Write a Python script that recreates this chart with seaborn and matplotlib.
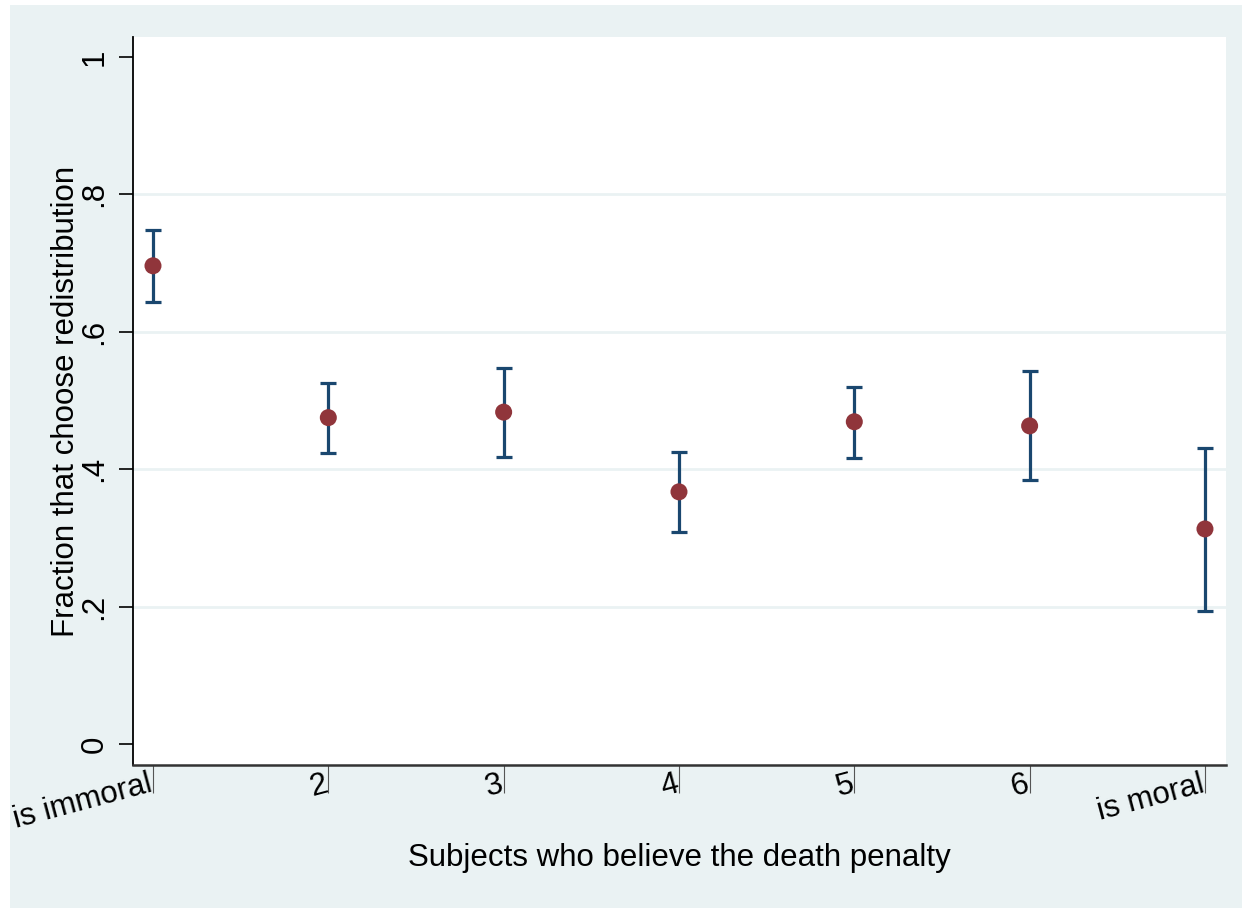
import numpy as np
import pandas as pd
import seaborn as sns
import matplotlib.pyplot as plt
import matplotlib.transforms as mtransforms
from matplotlib.patches import Rectangle

# values
groups = [1, 2, 3, 4, 5, 6, 7]
tick_labels = ['is immoral', '2', '3', '4', '5', '6', 'is moral']
frac = [0.696, 0.475, 0.483, 0.367, 0.469, 0.463, 0.313]
ci_low = [0.643, 0.424, 0.418, 0.309, 0.416, 0.384, 0.194]
ci_high = [0.748, 0.525, 0.547, 0.425, 0.520, 0.543, 0.431]

df = pd.DataFrame({'group': groups, 'frac': frac, 'lo': ci_low, 'hi': ci_high})

bg = '#EAF2F3'
navy = '#1A476F'
maroon = '#90353B'
fs = 22.5

sns.set_style('white')
plt.rcParams['font.family'] = ['Liberation Sans', 'DejaVu Sans']
plt.rcParams['text.color'] = 'black'
plt.rcParams['xtick.color'] = 'black'
plt.rcParams['ytick.color'] = 'black'
plt.rcParams['axes.labelcolor'] = 'black'

fig = plt.figure(figsize=(12.42, 9.08), dpi=100)
fig.patch.set_facecolor('white')
fig.patches.append(Rectangle((10 / 1242, 0), 1 - 10 / 1242, 1 - 5 / 908,
                             transform=fig.transFigure, facecolor=bg,
                             edgecolor='none', zorder=-10))
ax = fig.add_axes([133 / 1242, 1 - 765 / 908, (1226 - 133) / 1242, (765 - 37) / 908])
ax.set_facecolor('white')

# confidence intervals
ax.errorbar(df['group'], df['frac'],
            yerr=[df['frac'] - df['lo'], df['hi'] - df['frac']],
            fmt='none', ecolor=navy, elinewidth=2.3, capsize=6, capthick=2.3, zorder=2)
sns.scatterplot(data=df, x='group', y='frac', color=maroon, s=150,
                edgecolor='none', ax=ax, zorder=3)

ax.set_xlim(0.886, 7.12)
ax.set_ylim(-0.0306, 1.029)

ax.set_yticks([0, 0.2, 0.4, 0.6, 0.8, 1])
ax.set_yticklabels(['0', '.2', '.4', '.6', '.8', '1'], rotation=90, va='center')
ax.set_xticks(groups)
ax.set_xticklabels(tick_labels, rotation=15, ha='right', va='top', rotation_mode='anchor')

ax.tick_params(axis='y', direction='out', length=10, width=1.2, color='black',
               labelsize=fs, pad=7, left=True)
ax.tick_params(axis='x', direction='out', length=20, width=0.8, color='#555555',
               labelsize=fs, pad=-17, bottom=True)

# nudge x labels left so they sit beside their tick marks
shift = mtransforms.ScaledTranslation(-0.05, 0, fig.dpi_scale_trans)
for lbl in ax.get_xticklabels():
    lbl.set_transform(lbl.get_transform() + shift)

ax.yaxis.grid(True, color=bg, linewidth=2)
gl = ax.get_ygridlines()
gl[0].set_visible(False)
gl[-1].set_visible(False)
ax.set_axisbelow(True)

for s in ['top', 'right']:
    ax.spines[s].set_visible(False)
ax.spines['left'].set_color('black')
ax.spines['left'].set_linewidth(1.3)
ax.spines['bottom'].set_color('#333333')
ax.spines['bottom'].set_linewidth(1.8)

ax.set_xlabel('Subjects who believe the death penalty', fontsize=fs)
ax.set_ylabel('Fraction that choose redistribution', fontsize=fs)
ax.xaxis.set_label_coords(0.5, -(843 - 765) / 728)
ax.yaxis.set_label_coords((81 - 133) / 1093, 0.5)

fig.savefig('out.png', dpi=100, facecolor=fig.get_facecolor())
